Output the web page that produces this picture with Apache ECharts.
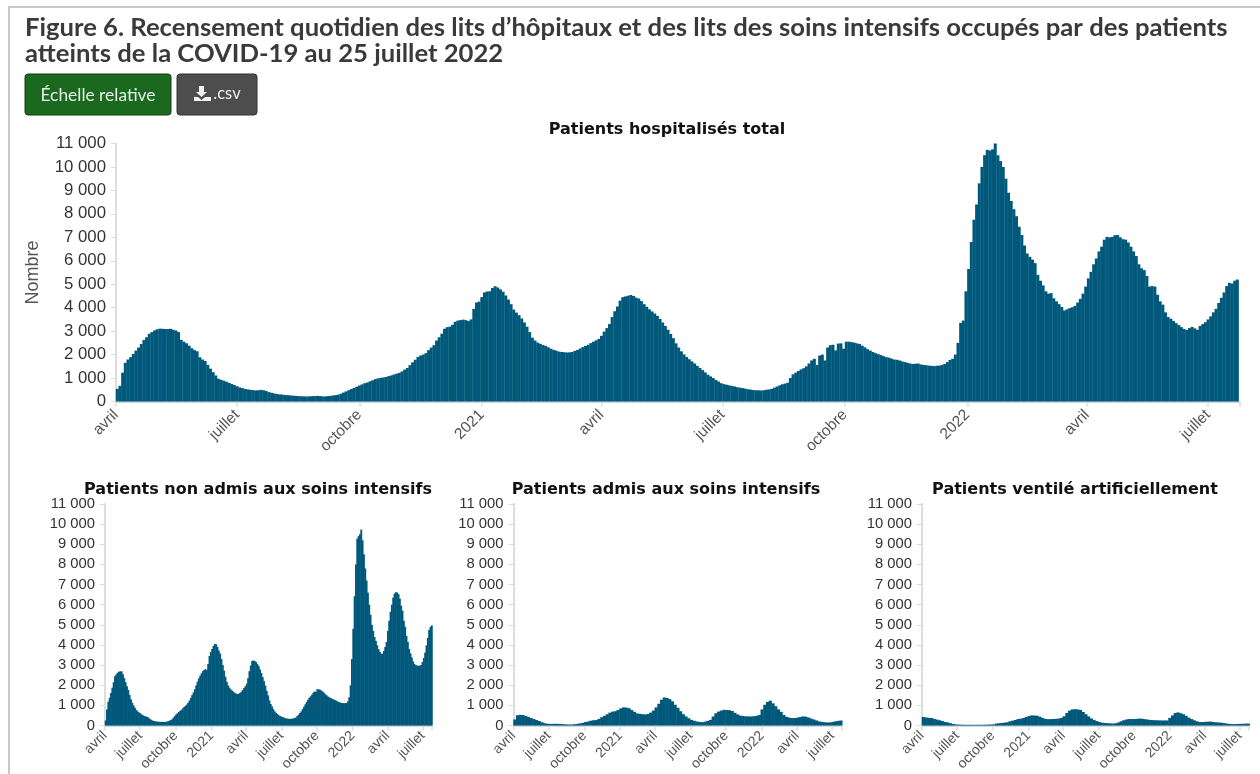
<!DOCTYPE html>
<html><head><meta charset="utf-8">
<script src="https://cdn.jsdelivr.net/npm/echarts@6/dist/echarts.min.js"></script>
<style>html,body{margin:0;padding:0;background:#fff}#c{width:1260px;height:774px}</style>
</head><body><div id="c"></div>
<script>
const figureTitle = "Figure 6. Recensement quotidien des lits d’hôpitaux et des lits des soins intensifs occupés par des patients\natteints de la COVID-19 au 25 juillet 2022";
const panelTitles = ["Patients hospitalisés total","Patients non admis aux soins intensifs","Patients admis aux soins intensifs","Patients ventilé artificiellement"];
const tickDates = ["2020-04-01","2020-07-01","2020-10-01","2021-01-01","2021-04-01","2021-07-01","2021-10-01","2022-01-01","2022-04-01","2022-07-01"];
const tickLabels = ["avril","juillet","octobre","2021","avril","juillet","octobre","2022","avril","juillet"];
const firstDay = "2020-04-01", lastDay = "2022-07-25";
// read every 2 days
const totalHosp = [540,670,1230,1650,1790,1890,2030,2170,2300,2450,2620,2740,2890,2960,3030,3080,3105,3100,3090,3090,3100,3060,3030,2960,2630,2550,2480,2380,2270,2190,2140,1890,1790,1730,1560,1400,1250,1110,970,925,885,845,795,750,700,650,600,570,535,515,500,485,470,480,495,480,445,400,370,345,320,305,295,280,270,260,250,240,232,225,220,215,218,225,232,240,232,222,215,225,238,255,270,290,330,380,430,480,530,580,630,680,730,780,810,860,905,955,985,1005,1025,1045,1080,1110,1150,1185,1220,1280,1360,1430,1550,1670,1780,1900,1960,2000,2060,2190,2300,2400,2600,2740,2890,3100,3170,3190,3270,3400,3450,3470,3490,3470,3430,3500,3950,4220,4260,4450,4650,4690,4700,4840,4915,4860,4780,4680,4520,4345,4150,3920,3790,3680,3540,3370,3190,2960,2720,2600,2510,2460,2410,2370,2310,2250,2200,2170,2130,2110,2100,2090,2095,2110,2160,2200,2260,2320,2370,2420,2490,2550,2610,2670,2800,2980,3130,3300,3600,3850,4050,4300,4450,4480,4510,4540,4500,4430,4390,4280,4150,4040,3930,3840,3750,3650,3520,3370,3220,3060,2880,2700,2480,2300,2140,2010,1900,1800,1710,1620,1520,1430,1340,1240,1140,1070,1000,920,850,780,740,715,690,665,640,610,590,570,550,525,505,490,480,475,470,480,500,515,540,590,640,690,735,765,800,1000,1160,1230,1300,1370,1420,1500,1620,1750,1820,1560,1960,2000,1750,2300,2400,2420,2180,2470,2480,2250,2550,2550,2530,2510,2480,2450,2380,2310,2230,2170,2110,2060,2020,1980,1930,1890,1870,1830,1790,1780,1750,1710,1680,1650,1620,1600,1610,1620,1580,1560,1550,1530,1520,1510,1525,1530,1560,1600,1680,1770,1820,2000,2500,3350,3450,4700,5650,6800,7750,8400,9300,10000,10500,10730,10700,10750,11000,10500,10250,10000,9500,8900,8550,8200,7900,7450,7100,6650,6310,6170,6050,5900,5400,5150,4950,4700,4600,4620,4400,4270,4150,4030,3880,3930,3980,4020,4080,4220,4380,4600,4900,5250,5530,5850,6100,6400,6600,6900,7020,7000,7020,7090,7100,7000,6920,6900,6780,6600,6400,6200,5850,5680,5600,5350,4900,4920,4900,4550,4270,4130,3800,3600,3530,3430,3340,3260,3170,3090,3050,3130,3180,3120,3060,3220,3300,3380,3500,3630,3800,3950,4200,4420,4650,4920,5060,5030,5150,5200];
// read about every 3.44 days
const nonICU = [250,800,1180,1380,1620,1880,2150,2440,2540,2620,2670,2690,2690,2550,2350,2150,1950,1770,1520,1300,1130,1000,880,770,700,650,610,550,510,480,450,430,400,340,290,250,230,210,200,190,185,180,180,180,180,180,190,210,240,270,310,390,470,550,610,670,730,780,850,920,980,1040,1130,1240,1370,1510,1640,1800,1990,2180,2340,2470,2590,2700,2760,2800,2750,3050,3450,3650,3800,3950,4050,4040,3900,3720,3570,3300,3000,2720,2420,2170,1990,1880,1790,1730,1680,1620,1580,1560,1580,1620,1680,1760,1860,1950,2080,2350,2700,2980,3200,3230,3200,3150,3050,2950,2780,2610,2400,2200,1980,1720,1500,1250,1070,950,810,700,630,570,510,470,440,420,390,360,350,340,330,330,330,350,370,400,470,540,620,700,820,930,1050,1170,1280,1380,1450,1530,1630,1690,1660,1800,1800,1780,1740,1690,1630,1550,1500,1440,1400,1370,1330,1300,1270,1240,1200,1170,1140,1120,1115,1110,1110,1120,1200,1400,2000,3300,4800,6420,8000,9280,9400,9500,9730,9200,8500,7800,7200,6600,6000,5500,5000,4700,4400,4200,3980,3790,3660,3570,3560,3700,3900,4150,4700,5200,5650,6000,6350,6550,6620,6600,6520,6300,5950,5700,5200,4900,4450,4150,3800,3580,3380,3180,3050,2990,2980,2960,2980,3000,3150,3350,3620,3980,4350,4750,4900,4970];
// read every 7 days
const icu = [300,510,530,520,470,420,370,320,270,220,160,110,85,80,80,85,80,75,65,55,50,50,65,80,105,130,170,200,240,260,270,330,410,480,560,640,690,710,770,850,900,890,860,770,680,600,580,560,550,570,640,740,900,1080,1280,1390,1370,1310,1200,1030,880,710,560,450,360,280,235,200,175,165,190,230,280,450,610,690,740,780,770,760,720,630,550,490,470,455,450,450,460,480,520,800,1030,1170,1230,1100,960,800,680,520,430,390,370,370,390,420,450,440,400,350,300,250,205,180,160,150,155,180,205,230,250];
const ventilated = [420,400,380,370,330,295,260,220,180,150,110,80,55,45,40,38,35,35,35,35,35,35,38,40,45,50,55,95,110,125,140,160,210,240,275,320,340,370,420,470,500,495,485,440,380,330,315,315,325,330,345,380,460,620,740,800,810,800,770,670,560,450,350,280,220,170,140,125,110,105,100,110,150,210,260,300,320,325,320,330,345,330,310,290,275,265,260,255,250,250,250,380,500,620,650,610,560,480,390,320,260,210,170,170,180,190,195,175,160,150,140,120,95,80,70,70,75,80,85,90,95];

const DAY = 86400000;
const dayOf = s => Math.round((Date.parse(s + "T00:00:00Z") - Date.parse(firstDay + "T00:00:00Z")) / DAY);
const stamped = (vals, step) => vals.map((v, i) => [(i + 0.5) * step, v]);
const tickDays = tickDates.map(dayOf);
const endDay = dayOf(lastDay);
const fmtNum = v => String(v).replace(/\B(?=(\d{3})+$)/g, " ");

const COLOR = "#00587a";
const panels = [
 {vals: totalHosp, step: 2, left: 116, width: 1124, top: 143.5, height: 258, fs: 16.8, xfs: 15.5, xm: 11, ym: 10, yp: 3, bw: 3, tx: 662, ty: 125, tfs: 16},
 {vals: nonICU, step: 3.44, left: 105, width: 327, top: 504, height: 221.5, fs: 14.8, xfs: 14, xm: 8, ym: 10, yp: 2, bw: 1.9, tx: 253, ty: 485, tfs: 16},
 {vals: icu, step: 7, left: 513.5, width: 328, top: 504, height: 221.5, fs: 14.8, xfs: 14, xm: 8, ym: 10, yp: 2, bw: 3.2, tx: 661, ty: 485, tfs: 16},
 {vals: ventilated, step: 7, left: 922, width: 327, top: 504, height: 221.5, fs: 14.8, xfs: 14, xm: 8, ym: 10, yp: 2, bw: 3.2, tx: 1070, ty: 485, tfs: 16}
];
const option = {
  animation: false,
  textStyle: {fontFamily: "Liberation Sans"},
  title: [{text: figureTitle, left: 20, top: 10, textStyle: {fontFamily: "Lato", fontWeight: "bold", fontSize: 25.65, lineHeight: 25.5, color: "#3a3a3a"}}]
    .concat(panels.map((p, i) => ({text: panelTitles[i], left: p.tx, top: p.ty, textAlign: "center", textVerticalAlign: "middle",
      textStyle: {fontFamily: "DejaVu Sans", fontWeight: "bold", fontSize: p.tfs, color: "#111"}}))),
  grid: panels.map(p => ({left: p.left, top: p.top, width: p.width, height: p.height})),
  xAxis: panels.map((p, i) => ({
    type: "value", gridIndex: i, min: 0, max: endDay,
    splitLine: {show: false},
    axisLine: {lineStyle: {color: "#c4ccd2", width: 1.5}},
    axisTick: {length: 5, customValues: tickDays.concat([endDay]), lineStyle: {color: "#ddd", width: 1.5}},
    axisLabel: {customValues: tickDays, rotate: 45, fontSize: p.xfs, color: "#555", margin: p.xm, hideOverlap: false, showMinLabel: true, showMaxLabel: true,
      formatter: v => tickLabels[tickDays.indexOf(+v)] || ""}
  })),
  yAxis: panels.map((p, i) => ({
    type: "value", gridIndex: i, min: 0, max: 11000, interval: 1000,
    name: i === 0 ? "Nombre" : "", nameLocation: "middle", nameGap: 74, nameRotate: 90,
    nameTextStyle: {fontFamily: "Liberation Sans", fontSize: 18, color: "#555"},
    splitLine: {show: false},
    axisLine: {show: true, lineStyle: {color: "#ddd", width: 2}},
    axisTick: {show: true, length: 5, lineStyle: {color: "#ddd", width: 1}},
    axisLabel: {fontSize: p.fs, color: "#333", margin: p.ym, padding: [p.yp, 0, 0, 0], formatter: fmtNum}
  })),
  series: panels.map((p, i) => ({
    type: "bar", xAxisIndex: i, yAxisIndex: i, data: stamped(p.vals, p.step),
    barWidth: p.bw, itemStyle: {color: COLOR}, silent: true
  })),
  graphic: [
    {type: "rect", silent: true, shape: {x: 9, y: 7, width: 1300, height: 900}, style: {fill: "none", stroke: "#c8c8c8", lineWidth: 2}},
    {type: "rect", silent: true, shape: {x: 25, y: 74, width: 146, height: 41, r: 3}, style: {fill: "#1b691f", stroke: "#123f14", lineWidth: 1}},
    {type: "text", silent: true, style: {x: 98, y: 95, text: "Échelle relative", fill: "#e8efe8", font: "17.4px Lato", align: "center", verticalAlign: "middle"}},
    {type: "rect", silent: true, shape: {x: 177, y: 74, width: 80, height: 41, r: 3}, style: {fill: "#4d4d4d", stroke: "#333", lineWidth: 1}},
    {type: "text", silent: true, style: {x: 227, y: 94, text: ".csv", fill: "#eee", font: "16.5px Lato", align: "center", verticalAlign: "middle"}},
    {type: "polygon", silent: true, shape: {points: [[199,86],[204,86],[204,92],[207,92],[201.5,97],[196,92],[199,92]]}, style: {fill: "#f2f2f2"}},
    {type: "polygon", silent: true, shape: {points: [[194,97],[198,97],[201.5,100],[205,97],[211,97],[211,101],[194,101]]}, style: {fill: "#f2f2f2"}}
  ]
};
echarts.init(document.getElementById("c"), null, {renderer: "canvas"}).setOption(option);
</script></body></html>
